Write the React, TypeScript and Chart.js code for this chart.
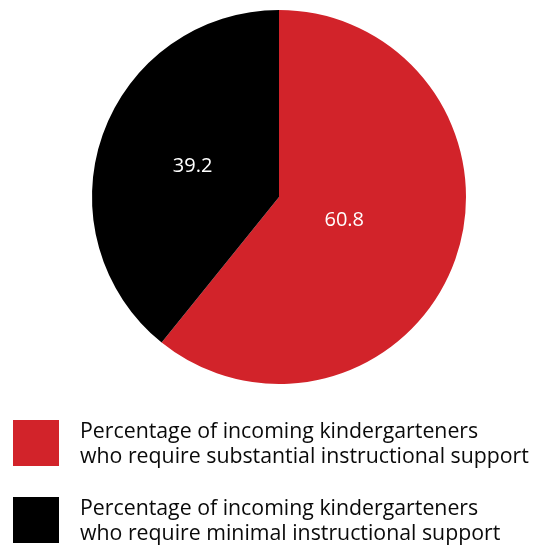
import React, { useEffect, useRef } from "react";
import { Chart, registerables } from "chart.js";

Chart.register(...registerables);

const categories = [
  ["Percentage of incoming kindergarteners", "who require substantial instructional support"],
  ["Percentage of incoming kindergarteners", "who require minimal instructional support"],
];
const values = [60.8, 39.2];
const valueLabels = ["60.8", "39.2"];
const colors = ["#d2232a", "#000000"];

const FONT = '"Open Sans", "Noto Sans", sans-serif';

const sliceLabelPlugin = {
  id: "sliceLabels",
  afterDatasetsDraw(chart: any) {
    const ctx = chart.ctx;
    const meta = chart.getDatasetMeta(0);
    const factors = [0.37, 0.49];
    ctx.save();
    ctx.fillStyle = "#ffffff";
    ctx.font = `20px ${FONT}`;
    ctx.textAlign = "center";
    ctx.textBaseline = "middle";
    meta.data.forEach((arc: any, i: number) => {
      const p = arc.getProps(["x", "y", "startAngle", "endAngle", "outerRadius"], true);
      const mid = (p.startAngle + p.endAngle) / 2;
      const r = p.outerRadius * factors[i];
      ctx.fillText(valueLabels[i], p.x + Math.cos(mid) * r, p.y + Math.sin(mid) * r);
    });
    ctx.restore();
  },
};

const legendPlugin = {
  id: "customLegend",
  afterDraw(chart: any) {
    const ctx = chart.ctx;
    const ds = chart.data.datasets[0];
    ctx.save();
    ctx.font = `21.3px ${FONT}`;
    ctx.textAlign = "left";
    ctx.textBaseline = "alphabetic";
    categories.forEach((lines, i) => {
      const top = 420 + i * 77;
      ctx.fillStyle = ds.backgroundColor[i];
      ctx.fillRect(13, top, 46, 46);
      ctx.fillStyle = "#0a0a0a";
      lines.forEach((ln, j) => {
        ctx.fillText(ln, 80, top + 18 + j * 24.5);
      });
    });
    ctx.restore();
  },
};

export default function App() {
  const ref = useRef<HTMLCanvasElement>(null);
  useEffect(() => {
    document.body.style.margin = "0";
    const chart = new Chart(ref.current!, {
      type: "pie",
      data: {
        labels: categories.map((c) => c.join(" ")),
        datasets: [
          {
            data: values,
            backgroundColor: colors,
            borderWidth: 0,
          },
        ],
      },
      options: {
        animation: false,
        responsive: false,
        layout: { padding: { left: 92, right: 67, top: 10, bottom: 162 } },
        plugins: {
          legend: { display: false },
          tooltip: { enabled: false },
        },
      },
      plugins: [sliceLabelPlugin, legendPlugin],
    });
    return () => chart.destroy();
  }, []);
  return (
    <div style={{ width: 533, height: 546 }}>
      <canvas ref={ref} width={533} height={546} style={{ display: "block" }} />
    </div>
  );
}
